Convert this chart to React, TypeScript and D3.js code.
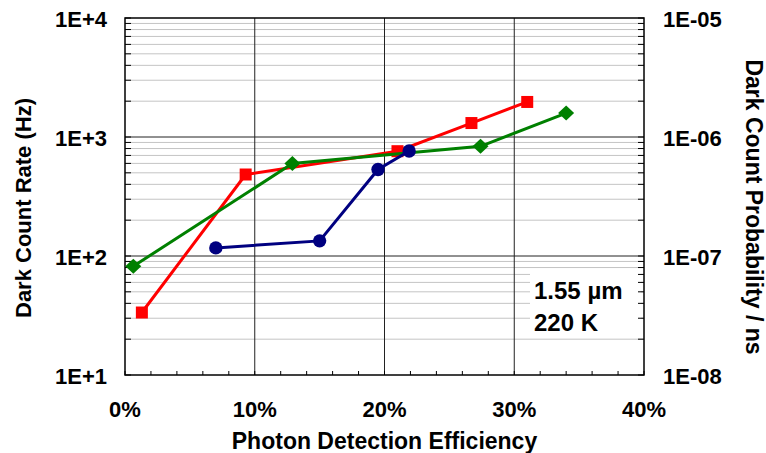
import React, { useEffect, useRef } from "react";
import * as d3 from "d3";

interface IPoint {
  pde: number;
  rate: number;
}

// photon detection efficiency (fraction) vs dark count rate (Hz)
const redPde = [0.013, 0.093, 0.21, 0.267, 0.31];
const redRate = [33.5, 484, 760, 1310, 1970];

const greenPde = [0.0064, 0.129, 0.274, 0.34];
const greenRate = [82, 598, 835, 1590];

const bluePde = [0.07, 0.15, 0.195, 0.219];
const blueRate = [117, 134, 533, 763];

const xTicks = [0, 0.1, 0.2, 0.3, 0.4];
const leftTicks = [10, 100, 1000, 10000];
const rightTicks = [1e-8, 1e-7, 1e-6, 1e-5];

const W = 766,
  H = 453;
const margin = { top: 18, right: 122, bottom: 78, left: 125 };
const FONT = "'Liberation Sans', Arial, Helvetica, sans-serif";

const toPoints = (xs: number[], ys: number[]): IPoint[] =>
  xs.map((v, i) => ({ pde: v, rate: ys[i] }));

export default function App(): JSX.Element {
  const ref = useRef<SVGSVGElement>(null);

  useEffect(() => {
    if (!ref.current) return;
    const root = d3.select(ref.current);
    root.selectAll("*").remove();

    const x0 = margin.left,
      x1 = W - margin.right,
      y0 = H - margin.bottom,
      y1 = margin.top;

    const x = d3.scaleLinear().domain([0, 0.4]).range([x0, x1]);
    const y = d3.scaleLog().domain([10, 10000]).range([y0, y1]);
    const y2 = d3.scaleLog().domain([1e-8, 1e-5]).range([y0, y1]);

    // minor grid values 2..9 per decade
    const minor: number[] = [];
    [10, 100, 1000].forEach((d) => {
      for (let k = 2; k <= 9; k++) minor.push(k * d);
    });
    const allY = leftTicks.concat(minor);

    const g = root.append("g");

    g.selectAll(".minor")
      .data(minor)
      .enter()
      .append("line")
      .attr("x1", x0)
      .attr("x2", x1)
      .attr("y1", (d) => y(d))
      .attr("y2", (d) => y(d))
      .attr("stroke", "#c4c4c4")
      .attr("stroke-width", 1);

    g.selectAll(".hmajor")
      .data([100, 1000])
      .enter()
      .append("line")
      .attr("x1", x0)
      .attr("x2", x1)
      .attr("y1", (d) => y(d))
      .attr("y2", (d) => y(d))
      .attr("stroke", "#222")
      .attr("stroke-width", 1);

    g.selectAll(".vmajor")
      .data([0.1, 0.2, 0.3])
      .enter()
      .append("line")
      .attr("x1", (d) => x(d))
      .attr("x2", (d) => x(d))
      .attr("y1", y0)
      .attr("y2", y1)
      .attr("stroke", "#222")
      .attr("stroke-width", 1);

    // label box
    g.append("rect")
      .attr("x", 530)
      .attr("y", 271)
      .attr("width", 111)
      .attr("height", 66)
      .attr("fill", "#fff");

    // ticks (inward)
    g.selectAll(".lt")
      .data(allY)
      .enter()
      .append("line")
      .attr("x1", x0)
      .attr("x2", x0 + 6)
      .attr("y1", (d) => y(d))
      .attr("y2", (d) => y(d))
      .attr("stroke", "#000");
    g.selectAll(".rt")
      .data(allY)
      .enter()
      .append("line")
      .attr("x1", x1)
      .attr("x2", x1 - 6)
      .attr("y1", (d) => y(d))
      .attr("y2", (d) => y(d))
      .attr("stroke", "#000");
    g.selectAll(".bt")
      .data(d3.range(0, 0.401, 0.02))
      .enter()
      .append("line")
      .attr("x1", (d) => x(d))
      .attr("x2", (d) => x(d))
      .attr("y1", y0)
      .attr("y2", y0 - 4)
      .attr("stroke", "#000");

    g.append("rect")
      .attr("x", x0)
      .attr("y", y1)
      .attr("width", x1 - x0)
      .attr("height", y0 - y1)
      .attr("fill", "none")
      .attr("stroke", "#000")
      .attr("stroke-width", 1.5);

    // tick labels
    const label = (sel: any, size = 22) =>
      sel
        .attr("font-family", FONT)
        .attr("font-weight", "bold")
        .attr("font-size", size)
        .attr("fill", "#000");

    label(
      g
        .selectAll(".ll")
        .data(leftTicks)
        .enter()
        .append("text")
        .attr("x", 107)
        .attr("y", (d: number) => y(d) + 9)
        .attr("text-anchor", "end")
        .text((d: number) => "1E+" + Math.round(Math.log10(d)))
    );
    label(
      g
        .selectAll(".rl")
        .data(rightTicks)
        .enter()
        .append("text")
        .attr("x", 663)
        .attr("y", (d: number) => y2(d) + 9)
        .attr("text-anchor", "start")
        .text((d: number) => "1E-0" + Math.round(-Math.log10(d)))
    );
    label(
      g
        .selectAll(".xl")
        .data(xTicks)
        .enter()
        .append("text")
        .attr("x", (d: number) => x(d))
        .attr("y", 417)
        .attr("text-anchor", "middle")
        .text((d: number) => Math.round(d * 100) + "%")
    );

    // axis titles
    label(
      g
        .append("text")
        .attr("x", (x0 + x1) / 2)
        .attr("y", 449)
        .attr("text-anchor", "middle")
        .text("Photon Detection Efficiency"),
      23
    );
    label(
      g
        .append("text")
        .attr("transform", "translate(31,208) rotate(-90)")
        .attr("text-anchor", "middle")
        .text("Dark Count Rate (Hz)")
    );
    label(
      g
        .append("text")
        .attr("transform", "translate(746,207) rotate(90)")
        .attr("text-anchor", "middle")
        .text("Dark Count Probability / ns"),
      23
    );

    label(g.append("text").attr("x", 534).attr("y", 299).text("1.55 µm"), 24);
    label(g.append("text").attr("x", 534).attr("y", 331).text("220 K"), 24);

    // series
    const line = d3
      .line<IPoint>()
      .x((d) => x(d.pde))
      .y((d) => y(d.rate));

    const series = [
      { data: toPoints(redPde, redRate), color: "#ff0000", shape: "square" },
      { data: toPoints(greenPde, greenRate), color: "#008000", shape: "diamond" },
      { data: toPoints(bluePde, blueRate), color: "#000080", shape: "circle" },
    ];

    series.forEach((s) => {
      const sg = g.append("g");
      sg.append("path")
        .datum(s.data)
        .attr("d", line)
        .attr("fill", "none")
        .attr("stroke", s.color)
        .attr("stroke-width", 3);
      const pts = sg
        .selectAll(".pt")
        .data(s.data)
        .enter()
        .append("g")
        .attr("transform", (d) => `translate(${x(d.pde)},${y(d.rate)})`);
      if (s.shape === "square") {
        pts.append("rect")
          .attr("x", -6)
          .attr("y", -6)
          .attr("width", 12)
          .attr("height", 12)
          .attr("fill", s.color);
      } else if (s.shape === "diamond") {
        pts.append("path")
          .attr("d", "M0,-7.5L8,0L0,7.5L-8,0Z")
          .attr("fill", s.color);
      } else {
        pts.append("circle").attr("r", 6.7).attr("fill", s.color);
      }
    });
  }, []);

  return (
    <svg
      ref={ref}
      width={W}
      height={H}
      style={{ position: "absolute", left: 0, top: 0, background: "#fff" }}
    ></svg>
  );
}
